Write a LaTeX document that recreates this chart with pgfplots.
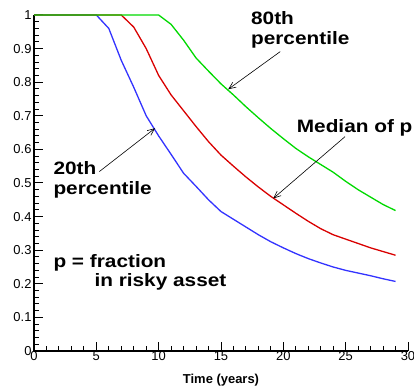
\documentclass[border=0pt]{standalone}
\usepackage{pgfplots}
\pgfplotsset{compat=1.18}
\usepackage{fontspec}
\setmainfont{Liberation Sans}
\newfontfamily\annfont{Liberation Sans}[FakeStretch=1.16]
\usetikzlibrary{arrows.meta}
\definecolor{cblue}{rgb}{0.2,0.2,1}
\definecolor{cred}{rgb}{0.85,0,0}
\definecolor{cgreen}{rgb}{0,0.85,0}
\begin{document}
\begin{tikzpicture}[x=1bp,y=1bp]
\path[use as bounding box] (-34bp,-35bp) rectangle (380bp,351bp);
\begin{axis}[
  at={(0,0)}, anchor=origin,
  scale only axis, width=374bp, height=336bp,
  xmin=0, xmax=30, ymin=0, ymax=1,
  axis lines*=left,
  axis line style={line width=1.6bp},
  tick align=inside,
  xtick={0,5,...,30}, ytick={0,0.1,...,1},
  minor x tick num=4, minor y tick num=4,
  major tick length=9bp, minor tick length=5bp,
  every tick/.style={black, line width=1bp},
  yticklabels={0,0.1,0.2,0.3,0.4,0.5,0.6,0.7,0.8,0.9,1},
  xticklabels={0,5,10,15,20,25,30},
  tick label style={font=\fontsize{13}{14}\selectfont},
  /pgf/number format/assume math mode=true,
  xticklabel style={yshift=3bp},
  yticklabel style={xshift=1bp},
  xlabel={\bfseries Time (years)},
  xlabel style={font=\fontsize{13}{14}\selectfont, at={(axis description cs:0.5,0)}, anchor=base, yshift=-32bp},
  clip=false,
]
\addplot[cblue, line width=1.3bp] coordinates {
(0,1)(1,1)(2,1)(3,1)(4,1)(5,1)(6,0.96)(7,0.865)(8,0.785)(9,0.70)(10,0.64)
(11,0.585)(12,0.529)(13,0.49)(14,0.45)(15,0.415)(16,0.392)(17,0.369)(18,0.346)
(19,0.325)(20,0.307)(21,0.29)(22,0.275)(23,0.262)(24,0.25)(25,0.24)(26,0.232)
(27,0.224)(28,0.215)(29,0.207)};
\addplot[cred, line width=1.3bp] coordinates {
(0,1)(1,1)(2,1)(3,1)(4,1)(5,1)(6,1)(7,1)(8,0.964)(9,0.9)(10,0.82)
(11,0.762)(12,0.715)(13,0.668)(14,0.623)(15,0.583)(16,0.55)(17,0.518)(18,0.488)
(19,0.46)(20,0.435)(21,0.41)(22,0.386)(23,0.364)(24,0.346)(25,0.333)(26,0.32)
(27,0.307)(28,0.296)(29,0.285)};
\addplot[cgreen, line width=1.3bp] coordinates {
(0,1)(1,1)(2,1)(3,1)(4,1)(5,1)(6,1)(7,1)(8,1)(9,1)(10,1)
(11,0.972)(12,0.925)(13,0.872)(14,0.833)(15,0.795)(16,0.762)(17,0.727)(18,0.694)
(19,0.662)(20,0.632)(21,0.603)(22,0.578)(23,0.555)(24,0.532)(25,0.505)(26,0.48)
(27,0.458)(28,0.436)(29,0.418)};
\tikzset{ann/.style={font=\annfont\bfseries\fontsize{18}{20}\selectfont, inner sep=0pt, anchor=base west}}
\node[ann] at (axis cs:17.4,0.973) {80th};
\node[ann] at (axis cs:17.4,0.913) {percentile};
\node[ann] at (axis cs:21.07,0.650) {Median of p};
\node[ann] at (axis cs:1.55,0.524) {20th};
\node[ann] at (axis cs:1.55,0.466) {percentile};
\node[ann] at (axis cs:1.55,0.249) {p = fraction};
\node[ann] at (axis cs:4.84,0.191) {in risky asset};
\draw[-{Straight Barb[length=7bp,width=6bp]}, line width=0.6bp] (axis cs:19.75,0.891) -- (axis cs:15.58,0.779);
\draw[-{Straight Barb[length=7bp,width=6bp]}, line width=0.6bp] (axis cs:24.95,0.638) -- (axis cs:19.19,0.454);
\draw[-{Straight Barb[length=7bp,width=6bp]}, line width=0.6bp] (axis cs:5.24,0.534) -- (axis cs:9.71,0.663);
\end{axis}
\end{tikzpicture}
\end{document}
